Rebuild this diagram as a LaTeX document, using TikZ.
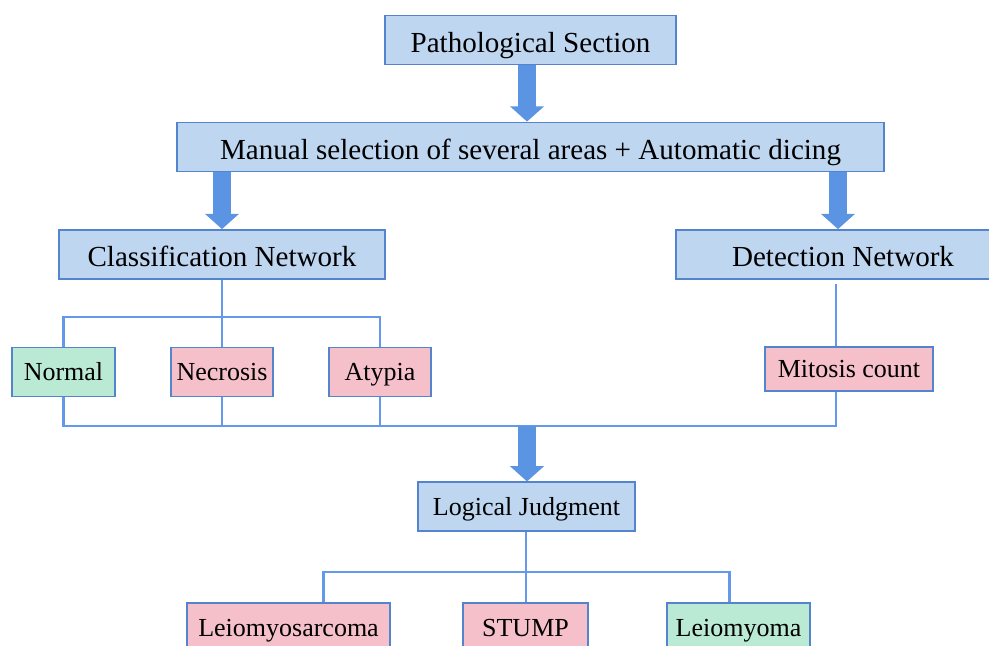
\documentclass[tikz,border=0pt]{standalone}
\usepackage{fontspec}
\setmainfont{Liberation Serif}
\usepackage{xcolor}
\usetikzlibrary{positioning,arrows.meta,calc}
\definecolor{pfill}{RGB}{190,214,240}
\definecolor{pline}{RGB}{84,132,206}
\definecolor{plink}{RGB}{100,152,234}
\definecolor{parrow}{RGB}{92,148,228}
\definecolor{pred}{RGB}{245,192,202}
\definecolor{pgreen}{RGB}{186,233,212}
\tikzset{
  box/.style={draw=pline, line width=1.1pt, fill=pfill, align=center, inner sep=0pt, minimum height=37pt, text height=18pt, text depth=0pt, font=\fontsize{21.8pt}{26pt}\selectfont},
  smallbox/.style={draw=pline, line width=1.1pt, fill=pfill, align=center, inner sep=0pt, minimum height=36.5pt, text height=13pt, text depth=0pt, font=\fontsize{19.5pt}{23pt}\selectfont},
  badbox/.style={smallbox, fill=pred},
  okbox/.style={smallbox, fill=pgreen},
  link/.style={draw=plink, line width=2.2pt},
  bigarrow/.style={-{Triangle[width=25pt,length=11.5pt]}, line width=13.5pt, parrow}
}
\begin{document}
\begin{tikzpicture}[x=0.75pt, y=-0.75pt]
    \path[fill=white, use as bounding box] (0,0) rectangle (989,646);
    % top part
    \node[box, minimum width=218pt] (sect) at (530.5,40) {Pathological Section};
    \node[box, minimum width=530pt] (dice) at (530.5,147) {Manual selection of several areas + Automatic dicing};
    \node[box, minimum width=244.5pt] (cls) at (222,254.5) {Classification Network};
    \node[box, minimum width=250.5pt] (det) at (843,254.5) {Detection Network};
    % results of the two networks
    \node[okbox, minimum width=77pt] (normal) at (63.5,372) {Normal};
    \node[badbox, minimum width=76.5pt] (necro) at (222,372) {Necrosis};
    \node[badbox, minimum width=76.5pt] (atyp) at (380,372) {Atypia};
    \node[badbox, minimum width=126pt, minimum height=33pt] (mitos) at (849,369) {Mitosis count};
    \node[smallbox, minimum width=163pt] (logic) at (526.5,506.5) {Logical Judgment};
    % diagnosis
    \node[badbox, minimum width=152pt] (sarc) at (288.5,627.5) {Leiomyosarcoma};
    \node[badbox, minimum width=94pt] (stump) at (525.5,627.5) {STUMP};
    \node[okbox, minimum width=107pt] (myoma) at (738.5,627.5) {Leiomyoma};
    \coordinate (clsbar) at (222,317);
    \coordinate (mitbar) at (836,426);
    \coordinate (join) at (527,426);
    \coordinate (outbar) at (526,572);
    \draw[bigarrow] ([xshift=-2.6pt]sect.south) -- ([xshift=-2.6pt]dice.north);
    \draw[bigarrow] (dice.south -| cls) -- (cls.north);
    \draw[bigarrow] (dice.south -| 838,0) -- (det.north -| 838,0);
    \draw[link] (cls) -- (necro);
    \draw[link] (normal.north) |- (clsbar) -| (atyp.north);
    \draw[link] ([yshift=-3pt]det.south -| mitbar) -- (mitbar |- mitos.north);
    \draw[link] (normal.south) |- (mitbar) -- (mitbar |- mitos.south);
    \draw[link] (necro.south) -- (necro.south |- mitbar);
    \draw[link] (atyp.south) -- (atyp.south |- mitbar);
    \draw[bigarrow] (join) -- (logic.north -| join);
    \draw[link] (logic.south -| outbar) -- (outbar);
    \draw[link] ([xshift=26.5pt]sarc.north) |- (outbar) -| ([xshift=-7pt]myoma.north);
    \draw[link] (outbar) -- (stump.north -| outbar);
  \end{tikzpicture}
\end{document}
